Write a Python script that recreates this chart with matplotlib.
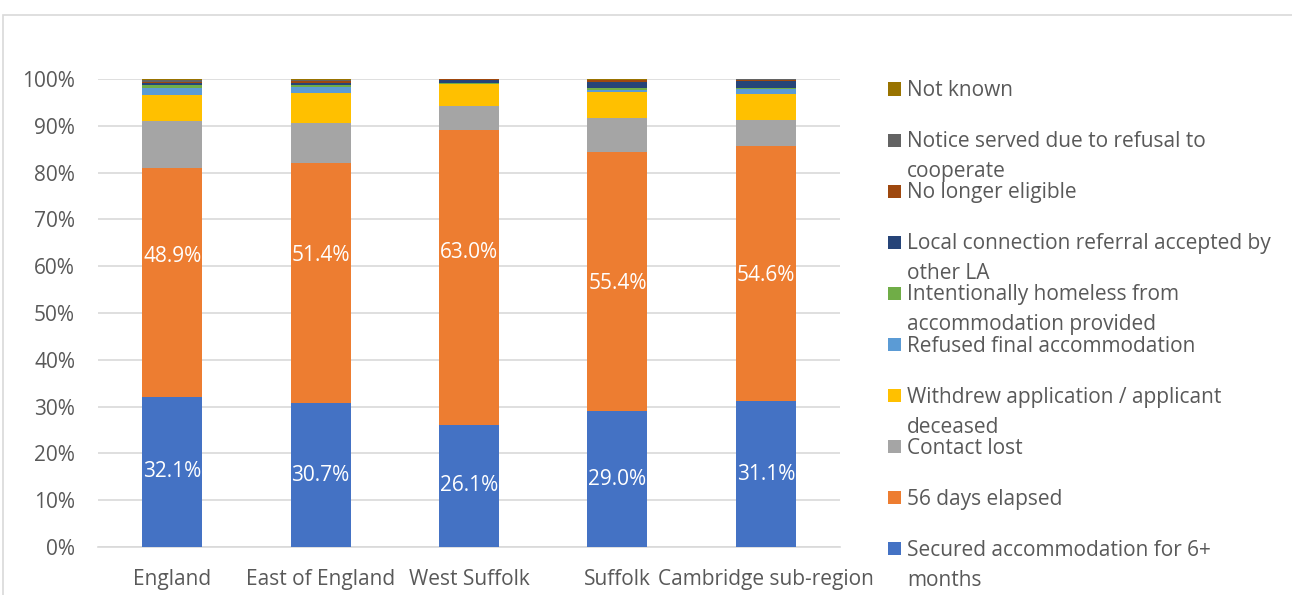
import matplotlib
matplotlib.use("Agg")
import matplotlib.pyplot as plt
import matplotlib.patches as mpatches
import numpy as np

plt.rcParams['font.family'] = ['Open Sans', 'DejaVu Sans']

regions = ["England", "East of England", "West Suffolk", "Suffolk", "Cambridge sub-region"]

series_names = [
    "Secured accommodation for 6+\nmonths",
    "56 days elapsed",
    "Contact lost",
    "Withdrew application / applicant\ndeceased",
    "Refused final accommodation",
    "Intentionally homeless from\naccommodation provided",
    "Local connection referral accepted by\nother LA",
    "No longer eligible",
    "Notice served due to refusal to\ncooperate",
    "Not known",
]

secured      = [32.1, 30.7, 26.1, 29.0, 31.1]
days_elapsed = [48.9, 51.4, 63.0, 55.4, 54.6]
contact_lost = [10.0, 8.5, 5.2, 7.3, 5.6]
withdrew     = [5.6, 6.5, 4.7, 5.6, 5.6]
refused      = [1.4, 1.1, 0.0, 0.3, 0.9]
intentional  = [0.7, 0.5, 0.1, 0.4, 0.2]
local_conn   = [0.4, 0.5, 0.7, 1.4, 1.6]
no_longer    = [0.3, 0.3, 0.1, 0.3, 0.2]
notice       = [0.3, 0.2, 0.0, 0.1, 0.1]
not_known    = [0.3, 0.3, 0.1, 0.2, 0.1]

series = [secured, days_elapsed, contact_lost, withdrew, refused,
          intentional, local_conn, no_longer, notice, not_known]

colors = ["#4472C4", "#ED7D31", "#A5A5A5", "#FFC000", "#5B9BD5",
          "#70AD47", "#264478", "#9E480E", "#636363", "#997300"]

# vertical nudge (percentage points) of the "56 days" labels
orange_label_shift = [5.6, 5.8, 5.4, -0.3, -0.3]

FS = 15
TXT = "#595959"

W, H = 1292, 595
fig = plt.figure(figsize=(W / 100, H / 100), dpi=100)
fig.patch.set_facecolor("white")

# outer chart border
fig.add_artist(mpatches.Rectangle((3 / W, -0.01), 1.2, 1 - 15 / H + 0.01,
                                  transform=fig.transFigure, fill=False,
                                  edgecolor="#D9D9D9", linewidth=1.2))

ax_left, ax_right = 98 / W, 840 / W
ax_bottom, ax_top = 1 - 547 / H, 1 - 79 / H
ax = fig.add_axes([ax_left, ax_bottom, ax_right - ax_left, ax_top - ax_bottom])

x = np.arange(len(regions))
bottom = np.zeros(len(regions))
for vals, col in zip(series, colors):
    v = np.array(vals)
    ax.bar(x, v, bottom=bottom, width=0.405, color=col, edgecolor="none", zorder=3)
    bottom += v

# value labels
for i in range(len(regions)):
    ax.text(x[i], secured[i] / 2, f"{secured[i]:.1f}%", ha="center", va="center",
            color="white", fontsize=FS, zorder=4)
    yc = secured[i] + days_elapsed[i] / 2 + orange_label_shift[i]
    ax.text(x[i], yc, f"{days_elapsed[i]:.1f}%", ha="center", va="center",
            color="white", fontsize=FS, zorder=4)

ax.set_xlim(-0.5, len(regions) - 0.5)
ax.set_ylim(0, 100)
ax.set_yticks(np.arange(0, 101, 10))
ax.set_yticklabels([f"{t}%" for t in range(0, 101, 10)], fontsize=FS, color=TXT)
ax.set_xticks(x)
ax.set_xticklabels(regions, fontsize=FS, color=TXT)
ax.tick_params(axis="both", length=0)
ax.tick_params(axis="y", pad=16.5)
ax.tick_params(axis="x", pad=15.5)
ax.yaxis.grid(True, color="#D9D9D9", linewidth=1.2, zorder=0)
for s in ["left", "right", "top"]:
    ax.spines[s].set_visible(False)
ax.spines["bottom"].set_color("#D9D9D9")
ax.spines["bottom"].set_linewidth(1.2)
ax.set_axisbelow(True)

# legend, listed from the top series down; wrapped lines drawn one by one
legend_top = 89
legend_step = 51.1
line_step = 30
for k, idx in enumerate(range(len(series_names) - 1, -1, -1)):
    yc = legend_top + k * legend_step
    fig.add_artist(mpatches.Rectangle((888 / W, 1 - (yc + 6.5) / H), 13 / W, 13 / H,
                                      transform=fig.transFigure,
                                      facecolor=colors[idx], edgecolor="none"))
    for j, line in enumerate(series_names[idx].split("\n")):
        fig.text(907 / W, 1 - (yc + 7 + j * line_step) / H, line, ha="left",
                 va="baseline", fontsize=FS, color=TXT)

fig.savefig("out.png", dpi=100)
